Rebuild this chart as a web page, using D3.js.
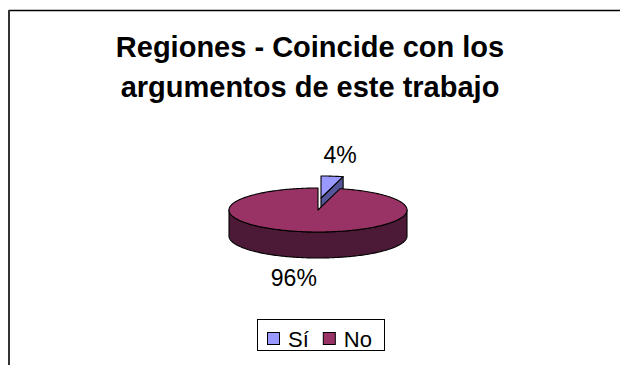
<!DOCTYPE html>
<html>
<head>
<meta charset="utf-8">
<script src="https://cdn.jsdelivr.net/npm/d3@7"></script>
<style>
  html, body { margin: 0; padding: 0; background: #fff; }
  svg { display: block; font-family: "Liberation Sans", Arial, sans-serif; }
</style>
</head>
<body>
<svg id="chart" width="620" height="365"></svg>
<script>
// Chart content
const titleLines = ["Regiones - Coincide con los", "argumentos de este trabajo"];
const categories = ["Sí", "No"];
const values = [4, 96];
const percentLabels = ["4%", "96%"];
const topColors = ["#9999ff", "#993366"];
const sideColors = ["#55559a", "#4c1a36"];
const exploded = [true, false];

const svg = d3.select("#chart");

// Outer chart-area frame (top and left edges visible)
svg.append("line").attr("x1", 9).attr("x2", 620).attr("y1", 10.5).attr("y2", 10.5)
  .attr("stroke", "#000").attr("stroke-width", 1.4);
svg.append("line").attr("x1", 9).attr("x2", 9).attr("y1", 10).attr("y2", 365)
  .attr("stroke", "#333").attr("stroke-width", 2);

// Title
svg.append("g").selectAll("text").data(titleLines).join("text")
  .attr("x", 310)
  .attr("y", (d, i) => 56.5 + i * 40)
  .attr("text-anchor", "middle")
  .attr("font-weight", "bold")
  .attr("font-size", 29)
  .attr("fill", "#000")
  .text(d => d);

// 3D pie geometry
const cx = 318, cy = 210, rx = 89, ry = 22, depth = 26;
const explodeOffset = { dx: 3, dy: -12 };

const arcs = d3.pie().sort(null).value(d => d)(values);

function pt(theta, r, ox, oy, z) {
  return [cx + ox + r * rx * Math.sin(theta), cy + oy - r * ry * Math.cos(theta) + z];
}
function arcPts(a0, a1, ox, oy, z) {
  const n = Math.max(2, Math.ceil(Math.abs(a1 - a0) / 0.02));
  return d3.range(n + 1).map(i => pt(a0 + (a1 - a0) * i / n, 1, ox, oy, z));
}
const line = pts => "M" + pts.map(p => p[0].toFixed(2) + "," + p[1].toFixed(2)).join("L") + "Z";

const pieG = svg.append("g").attr("stroke", "#000").attr("stroke-width", 1.1).attr("stroke-linejoin", "round");

// Back (exploded) slice first, main slice on top
const order = [0, 1];
order.forEach(i => {
  const a = arcs[i];
  const ox = exploded[i] ? explodeOffset.dx : 0;
  const oy = exploded[i] ? explodeOffset.dy : 0;
  const g = pieG.append("g");

  // radial side faces turned toward the viewer
  if (Math.sin(a.endAngle) > 0.01) {
    const q = [pt(0, 0, ox, oy, 0), pt(a.endAngle, 1, ox, oy, 0),
               pt(a.endAngle, 1, ox, oy, depth), pt(0, 0, ox, oy, depth)];
    g.append("path").attr("d", line(q)).attr("fill", sideColors[i]);
  }
  if (-Math.sin(a.startAngle) > 0.01) {
    const q = [pt(0, 0, ox, oy, 0), pt(a.startAngle, 1, ox, oy, 0),
               pt(a.startAngle, 1, ox, oy, depth), pt(0, 0, ox, oy, depth)];
    g.append("path").attr("d", line(q)).attr("fill", sideColors[i]);
  }

  // curved outer wall on the front half of the ellipse
  const f0 = Math.max(a.startAngle, Math.PI / 2);
  const f1 = Math.min(a.endAngle, 3 * Math.PI / 2);
  if (f1 > f0) {
    const topArc = arcPts(f0, f1, ox, oy, 0);
    const botArc = arcPts(f1, f0, ox, oy, depth);
    g.append("path").attr("d", line(topArc.concat(botArc))).attr("fill", sideColors[i]);
  }

  // top face
  const face = [pt(0, 0, ox, oy, 0)].concat(arcPts(a.startAngle, a.endAngle, ox, oy, 0));
  g.append("path").attr("d", line(face)).attr("fill", topColors[i]);
});

// Percentage labels, placed from each slice's mid angle
const labelNudge = [{ dx: 8, dy: -13 }, { dx: -13, dy: 28 }];
svg.append("g").selectAll("text").data(arcs).join("text")
  .attr("x", (d, i) => {
    const m = (d.startAngle + d.endAngle) / 2;
    const ox = exploded[i] ? explodeOffset.dx : 0;
    return pt(m, 1, ox, 0, 0)[0] + labelNudge[i].dx;
  })
  .attr("y", (d, i) => {
    const m = (d.startAngle + d.endAngle) / 2;
    const oy = exploded[i] ? explodeOffset.dy : 0;
    const z = Math.cos(m) < 0 ? depth : 0;
    return pt(m, 1, 0, oy, z)[1] + labelNudge[i].dy;
  })
  .attr("text-anchor", "middle")
  .attr("font-size", 23)
  .attr("fill", "#000")
  .text((d, i) => percentLabels[i]);

// Legend
const legend = svg.append("g");
legend.append("rect").attr("x", 257.5).attr("y", 319.5).attr("width", 127).attr("height", 31)
  .attr("fill", "#fff").attr("stroke", "#000").attr("stroke-width", 1);
let lx = 267;
categories.forEach((c, i) => {
  legend.append("rect").attr("x", lx + 0.5).attr("y", 332.5).attr("width", 12).attr("height", 12)
    .attr("fill", topColors[i]).attr("stroke", "#000").attr("stroke-width", 1);
  const t = legend.append("text").attr("x", lx + 21).attr("y", 346.5)
    .attr("font-size", 22).attr("fill", "#000").text(c);
  lx += 21 + t.node().getComputedTextLength() + 14;
});
</script>
</body>
</html>
